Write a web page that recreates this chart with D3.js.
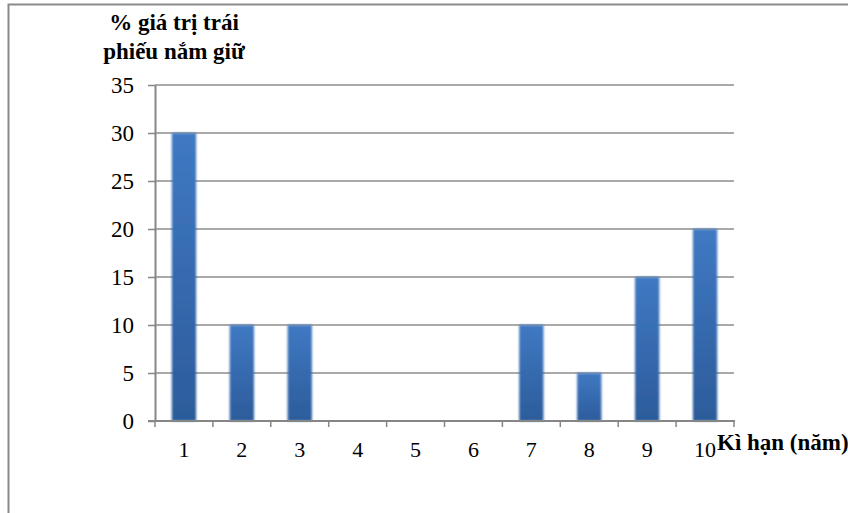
<!DOCTYPE html>
<html>
<head>
<meta charset="utf-8">
<script src="https://cdn.jsdelivr.net/npm/d3@7"></script>
<style>
  html, body { margin: 0; padding: 0; background: #fff; }
  svg { display: block; }
</style>
</head>
<body>
<svg id="chart" width="848" height="513"></svg>
<script>
// Bond holdings by maturity
const maturities = ["1", "2", "3", "4", "5", "6", "7", "8", "9", "10"];
const shares = [30, 10, 10, 0, 0, 0, 10, 5, 15, 20];
const yTicks = [0, 5, 10, 15, 20, 25, 30, 35];
const yTitle = ["% giá trị trái", "phiếu nắm giữ"];
const xTitle = "Kì hạn (năm)";

const FONT = "'Liberation Serif', 'Times New Roman', Times, serif";

const svg = d3.select("#chart");
const m = { left: 155, right: 734, top: 85, bottom: 421 };

const x = d3.scaleBand().domain(maturities).range([m.left, m.right]).paddingInner(0.58).paddingOuter(0.29);
const xBand = d3.scaleBand().domain(maturities).range([m.left, m.right]);
const y = d3.scaleLinear().domain([0, 35]).range([m.bottom, m.top]);

// outer frame
svg.append("path")
  .attr("d", "M8.5,520 V4.5 H860")
  .attr("fill", "none").attr("stroke", "#8a8a8a").attr("stroke-width", 2);

// gradient for bars
const defs = svg.append("defs");
const grad = defs.append("linearGradient").attr("id", "barGrad")
  .attr("x1", 0).attr("y1", 0).attr("x2", 0).attr("y2", 1);
grad.append("stop").attr("offset", "0%").attr("stop-color", "#4079c3");
grad.append("stop").attr("offset", "100%").attr("stop-color", "#2c5c9b");
const blur = defs.append("filter").attr("id", "soft").attr("x", "-30%").attr("y", "-5%").attr("width", "160%").attr("height", "110%");
blur.append("feGaussianBlur").attr("stdDeviation", 0.8);

// gridlines
svg.append("g")
  .selectAll("line").data(yTicks.filter(d => d > 0)).join("line")
  .attr("x1", m.left).attr("x2", m.right)
  .attr("y1", d => y(d)).attr("y2", d => y(d))
  .attr("stroke", "#8c8c8c").attr("stroke-width", 1.5);

// bars
svg.append("g")
  .selectAll("rect").data(maturities).join("rect")
  .attr("x", d => x(d))
  .attr("width", x.bandwidth())
  .attr("y", (d, i) => y(shares[i]))
  .attr("height", (d, i) => y(0) - y(shares[i]))
  .attr("fill", "url(#barGrad)")
  .attr("filter", "url(#soft)");

// y axis
const yAxis = svg.append("g").attr("transform", `translate(${m.left},0)`)
  .call(d3.axisLeft(y).tickValues(yTicks).tickSize(7).tickPadding(14).tickSizeOuter(0));
yAxis.attr("font-family", FONT).attr("font-size", 23);
yAxis.select(".domain").attr("stroke", "#868686").attr("stroke-width", 2);
yAxis.selectAll(".tick line").attr("stroke", "#868686").attr("stroke-width", 1.5);
yAxis.selectAll(".tick text").attr("fill", "#000").attr("dy", "0.33em");

// x axis
const xAxis = svg.append("g").attr("transform", `translate(0,${m.bottom})`)
  .attr("font-family", FONT).attr("font-size", 22);
xAxis.append("line").attr("x1", m.left - 7).attr("x2", m.right + 1)
  .attr("stroke", "#868686").attr("stroke-width", 2);
xAxis.selectAll("line.tk").data(maturities.concat(["end"])).join("line").attr("class", "tk")
  .attr("x1", (d, i) => i < maturities.length ? xBand(d) : m.right)
  .attr("x2", (d, i) => i < maturities.length ? xBand(d) : m.right)
  .attr("y1", 0).attr("y2", 6)
  .attr("stroke", "#868686").attr("stroke-width", 1.5);
xAxis.selectAll("text").data(maturities).join("text")
  .attr("x", d => xBand(d) + xBand.bandwidth() / 2)
  .attr("y", 36)
  .attr("text-anchor", "middle")
  .attr("fill", "#000")
  .text(d => d);

// axis titles
svg.append("text").attr("x", 174).attr("y", 30).attr("text-anchor", "middle")
  .attr("font-family", FONT).attr("font-size", 23).attr("font-weight", "bold").attr("fill", "#000")
  .selectAll("tspan").data(yTitle).join("tspan")
  .attr("x", 174).attr("dy", (d, i) => i === 0 ? 0 : 29).text(d => d);

svg.append("text").attr("x", 717).attr("y", 450)
  .attr("font-family", FONT).attr("font-size", 23).attr("font-weight", "bold").attr("fill", "#000")
  .text(xTitle);
</script>
</body>
</html>
